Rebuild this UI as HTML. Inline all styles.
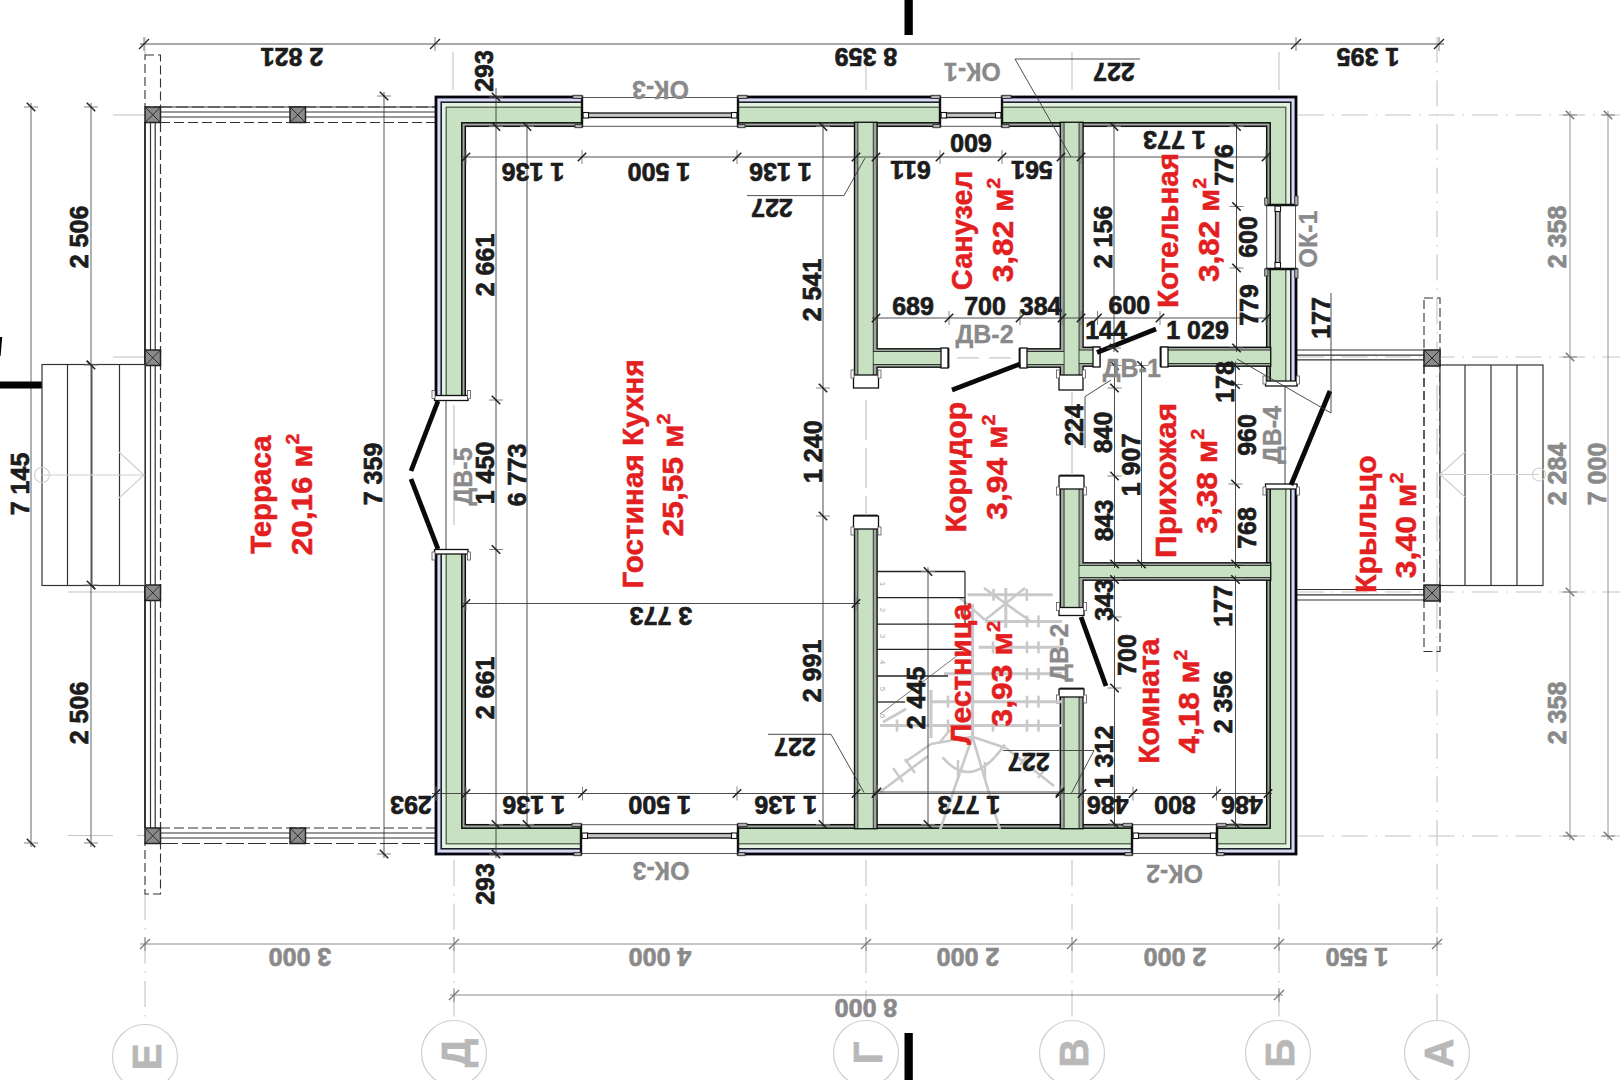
<!DOCTYPE html><html><head><meta charset="utf-8"><style>html,body{margin:0;padding:0;background:#fff;}svg{display:block;} text{font-family:"Liberation Sans",sans-serif;}</style></head><body>
<svg width="1620" height="1080" viewBox="0 0 1620 1080">
<rect width="1620" height="1080" fill="#fff"/>
<line x1="145" y1="894" x2="145" y2="1025" stroke="#c4c4c4" stroke-width="1.1" stroke-dasharray="26 8 1.5 8" stroke-linecap="butt"/>
<line x1="454" y1="860" x2="454" y2="1020" stroke="#c4c4c4" stroke-width="1.1" stroke-dasharray="26 8 1.5 8" stroke-linecap="butt"/>
<line x1="866" y1="860" x2="866" y2="1020" stroke="#c4c4c4" stroke-width="1.1" stroke-dasharray="26 8 1.5 8" stroke-linecap="butt"/>
<line x1="1072" y1="860" x2="1072" y2="1020" stroke="#c4c4c4" stroke-width="1.1" stroke-dasharray="26 8 1.5 8" stroke-linecap="butt"/>
<line x1="1279" y1="860" x2="1279" y2="1020" stroke="#c4c4c4" stroke-width="1.1" stroke-dasharray="26 8 1.5 8" stroke-linecap="butt"/>
<line x1="1437" y1="37" x2="1437" y2="1020" stroke="#c4c4c4" stroke-width="1.1" stroke-dasharray="26 8 1.5 8" stroke-linecap="butt"/>
<line x1="453" y1="52" x2="453" y2="90" stroke="#c4c4c4" stroke-width="1.1" stroke-linecap="butt"/>
<line x1="866" y1="52" x2="866" y2="90" stroke="#c4c4c4" stroke-width="1.1" stroke-linecap="butt"/>
<line x1="1072" y1="52" x2="1072" y2="90" stroke="#c4c4c4" stroke-width="1.1" stroke-linecap="butt"/>
<line x1="1279" y1="52" x2="1279" y2="90" stroke="#c4c4c4" stroke-width="1.1" stroke-linecap="butt"/>
<line x1="145" y1="37" x2="145" y2="55" stroke="#c4c4c4" stroke-width="1.1" stroke-linecap="butt"/>
<line x1="1298" y1="115" x2="1620" y2="115" stroke="#c4c4c4" stroke-width="1.1" stroke-dasharray="26 8 1.5 8" stroke-linecap="butt"/>
<line x1="1298" y1="357" x2="1620" y2="357" stroke="#c4c4c4" stroke-width="1.1" stroke-dasharray="26 8 1.5 8" stroke-linecap="butt"/>
<line x1="1298" y1="592" x2="1620" y2="592" stroke="#c4c4c4" stroke-width="1.1" stroke-dasharray="26 8 1.5 8" stroke-linecap="butt"/>
<line x1="1298" y1="836" x2="1620" y2="836" stroke="#c4c4c4" stroke-width="1.1" stroke-dasharray="26 8 1.5 8" stroke-linecap="butt"/>
<line x1="113" y1="115" x2="145" y2="115" stroke="#c4c4c4" stroke-width="1.1" stroke-linecap="butt"/>
<line x1="113" y1="357" x2="145" y2="357" stroke="#c4c4c4" stroke-width="1.1" stroke-linecap="butt"/>
<line x1="68" y1="592" x2="145" y2="592" stroke="#c4c4c4" stroke-width="1.1" stroke-linecap="butt"/>
<line x1="68" y1="835.5" x2="113" y2="835.5" stroke="#c4c4c4" stroke-width="1.1" stroke-linecap="butt"/>
<line x1="137" y1="835.5" x2="145" y2="835.5" stroke="#c4c4c4" stroke-width="1.1" stroke-linecap="butt"/>
<line x1="140" y1="44" x2="1444" y2="44" stroke="#555" stroke-width="1.1" stroke-linecap="butt"/>
<line x1="144" y1="37" x2="144" y2="51" stroke="#777" stroke-width="0.9"/>
<line x1="139" y1="49" x2="149" y2="39" stroke="#222" stroke-width="1.2"/>
<line x1="435" y1="37" x2="435" y2="51" stroke="#777" stroke-width="0.9"/>
<line x1="430" y1="49" x2="440" y2="39" stroke="#222" stroke-width="1.2"/>
<line x1="1296" y1="37" x2="1296" y2="51" stroke="#777" stroke-width="0.9"/>
<line x1="1291" y1="49" x2="1301" y2="39" stroke="#222" stroke-width="1.2"/>
<line x1="1439" y1="37" x2="1439" y2="51" stroke="#777" stroke-width="0.9"/>
<line x1="1434" y1="49" x2="1444" y2="39" stroke="#222" stroke-width="1.2"/>
<text transform="translate(292,57) rotate(180)" x="0" y="9.00" font-size="25" fill="#1c1c1c" font-weight="bold" text-anchor="middle" stroke="#1c1c1c" stroke-width="0.7">2 821</text>
<text transform="translate(866,57) rotate(180)" x="0" y="9.00" font-size="25" fill="#1c1c1c" font-weight="bold" text-anchor="middle" stroke="#1c1c1c" stroke-width="0.7">8 359</text>
<text transform="translate(1368,57) rotate(180)" x="0" y="9.00" font-size="25" fill="#1c1c1c" font-weight="bold" text-anchor="middle" stroke="#1c1c1c" stroke-width="0.7">1 395</text>
<line x1="31" y1="103" x2="31" y2="847" stroke="#555" stroke-width="0.9" stroke-linecap="butt"/>
<line x1="24" y1="107" x2="38" y2="107" stroke="#777" stroke-width="0.9"/>
<line x1="26.8" y1="102.8" x2="35.2" y2="111.2" stroke="#222" stroke-width="1.5"/>
<line x1="24" y1="843" x2="38" y2="843" stroke="#777" stroke-width="0.9"/>
<line x1="26.8" y1="838.8" x2="35.2" y2="847.2" stroke="#222" stroke-width="1.5"/>
<text transform="translate(19.5,484) rotate(-90)" x="0" y="9.00" font-size="25" fill="#1c1c1c" font-weight="bold" text-anchor="middle" stroke="#1c1c1c" stroke-width="0.7">7 145</text>
<line x1="91" y1="103" x2="91" y2="847" stroke="#555" stroke-width="0.9" stroke-linecap="butt"/>
<line x1="84" y1="107" x2="98" y2="107" stroke="#777" stroke-width="0.9"/>
<line x1="86.8" y1="102.8" x2="95.2" y2="111.2" stroke="#222" stroke-width="1.5"/>
<line x1="84" y1="365" x2="98" y2="365" stroke="#777" stroke-width="0.9"/>
<line x1="86.8" y1="360.8" x2="95.2" y2="369.2" stroke="#222" stroke-width="1.5"/>
<line x1="84" y1="585" x2="98" y2="585" stroke="#777" stroke-width="0.9"/>
<line x1="86.8" y1="580.8" x2="95.2" y2="589.2" stroke="#222" stroke-width="1.5"/>
<line x1="84" y1="843" x2="98" y2="843" stroke="#777" stroke-width="0.9"/>
<line x1="86.8" y1="838.8" x2="95.2" y2="847.2" stroke="#222" stroke-width="1.5"/>
<text transform="translate(79,237) rotate(-90)" x="0" y="9.00" font-size="25" fill="#1c1c1c" font-weight="bold" text-anchor="middle" stroke="#1c1c1c" stroke-width="0.7">2 506</text>
<text transform="translate(79,525) rotate(-90)" x="0" y="9.00" font-size="25" fill="#1c1c1c" font-weight="bold" text-anchor="middle" stroke="#1c1c1c" stroke-width="0.7">2 134</text>
<text transform="translate(79,713) rotate(-90)" x="0" y="9.00" font-size="25" fill="#1c1c1c" font-weight="bold" text-anchor="middle" stroke="#1c1c1c" stroke-width="0.7">2 506</text>
<line x1="384" y1="92" x2="384" y2="858" stroke="#444" stroke-width="0.9" stroke-linecap="butt"/>
<line x1="377" y1="96" x2="391" y2="96" stroke="#777" stroke-width="0.9"/>
<line x1="379.8" y1="91.8" x2="388.2" y2="100.2" stroke="#222" stroke-width="1.5"/>
<line x1="377" y1="854" x2="391" y2="854" stroke="#777" stroke-width="0.9"/>
<line x1="379.8" y1="849.8" x2="388.2" y2="858.2" stroke="#222" stroke-width="1.5"/>
<text transform="translate(372.5,474) rotate(-90)" x="0" y="9.00" font-size="25" fill="#1c1c1c" font-weight="bold" text-anchor="middle" stroke="#1c1c1c" stroke-width="0.7">7 359</text>
<line x1="1570" y1="111" x2="1570" y2="840" stroke="#888" stroke-width="0.9" stroke-linecap="butt"/>
<line x1="1563" y1="115" x2="1577" y2="115" stroke="#777" stroke-width="0.9"/>
<line x1="1565.8" y1="110.8" x2="1574.2" y2="119.2" stroke="#777" stroke-width="1.5"/>
<line x1="1563" y1="357" x2="1577" y2="357" stroke="#777" stroke-width="0.9"/>
<line x1="1565.8" y1="352.8" x2="1574.2" y2="361.2" stroke="#777" stroke-width="1.5"/>
<line x1="1563" y1="592" x2="1577" y2="592" stroke="#777" stroke-width="0.9"/>
<line x1="1565.8" y1="587.8" x2="1574.2" y2="596.2" stroke="#777" stroke-width="1.5"/>
<line x1="1563" y1="836" x2="1577" y2="836" stroke="#777" stroke-width="0.9"/>
<line x1="1565.8" y1="831.8" x2="1574.2" y2="840.2" stroke="#777" stroke-width="1.5"/>
<line x1="1608" y1="111" x2="1608" y2="840" stroke="#888" stroke-width="0.9" stroke-linecap="butt"/>
<line x1="1601" y1="115" x2="1615" y2="115" stroke="#777" stroke-width="0.9"/>
<line x1="1603.8" y1="110.8" x2="1612.2" y2="119.2" stroke="#777" stroke-width="1.5"/>
<line x1="1601" y1="836" x2="1615" y2="836" stroke="#777" stroke-width="0.9"/>
<line x1="1603.8" y1="831.8" x2="1612.2" y2="840.2" stroke="#777" stroke-width="1.5"/>
<text transform="translate(1557,237) rotate(-90)" x="0" y="9.00" font-size="25" fill="#8a8a8a" font-weight="bold" text-anchor="middle" stroke="#8a8a8a" stroke-width="0.7">2 358</text>
<text transform="translate(1557,474) rotate(-90)" x="0" y="9.00" font-size="25" fill="#8a8a8a" font-weight="bold" text-anchor="middle" stroke="#8a8a8a" stroke-width="0.7">2 284</text>
<text transform="translate(1557,713) rotate(-90)" x="0" y="9.00" font-size="25" fill="#8a8a8a" font-weight="bold" text-anchor="middle" stroke="#8a8a8a" stroke-width="0.7">2 358</text>
<text transform="translate(1597,474) rotate(-90)" x="0" y="9.00" font-size="25" fill="#8a8a8a" font-weight="bold" text-anchor="middle" stroke="#8a8a8a" stroke-width="0.7">7 000</text>
<line x1="140" y1="944" x2="1442" y2="944" stroke="#8a8a8a" stroke-width="1.1" stroke-linecap="butt"/>
<line x1="145" y1="937" x2="145" y2="951" stroke="#777" stroke-width="0.9"/>
<line x1="140" y1="949" x2="150" y2="939" stroke="#777" stroke-width="1.2"/>
<line x1="454" y1="937" x2="454" y2="951" stroke="#777" stroke-width="0.9"/>
<line x1="449" y1="949" x2="459" y2="939" stroke="#777" stroke-width="1.2"/>
<line x1="866" y1="937" x2="866" y2="951" stroke="#777" stroke-width="0.9"/>
<line x1="861" y1="949" x2="871" y2="939" stroke="#777" stroke-width="1.2"/>
<line x1="1072" y1="937" x2="1072" y2="951" stroke="#777" stroke-width="0.9"/>
<line x1="1067" y1="949" x2="1077" y2="939" stroke="#777" stroke-width="1.2"/>
<line x1="1279" y1="937" x2="1279" y2="951" stroke="#777" stroke-width="0.9"/>
<line x1="1274" y1="949" x2="1284" y2="939" stroke="#777" stroke-width="1.2"/>
<line x1="1437" y1="937" x2="1437" y2="951" stroke="#777" stroke-width="0.9"/>
<line x1="1432" y1="949" x2="1442" y2="939" stroke="#777" stroke-width="1.2"/>
<line x1="450" y1="995" x2="1283" y2="995" stroke="#8a8a8a" stroke-width="1.1" stroke-linecap="butt"/>
<line x1="454" y1="988" x2="454" y2="1002" stroke="#777" stroke-width="0.9"/>
<line x1="449" y1="1000" x2="459" y2="990" stroke="#777" stroke-width="1.2"/>
<line x1="1279" y1="988" x2="1279" y2="1002" stroke="#777" stroke-width="0.9"/>
<line x1="1274" y1="1000" x2="1284" y2="990" stroke="#777" stroke-width="1.2"/>
<text transform="translate(300,957) rotate(180)" x="0" y="9.00" font-size="25" fill="#8a8a8a" font-weight="bold" text-anchor="middle" stroke="#8a8a8a" stroke-width="0.7">3 000</text>
<text transform="translate(660,957) rotate(180)" x="0" y="9.00" font-size="25" fill="#8a8a8a" font-weight="bold" text-anchor="middle" stroke="#8a8a8a" stroke-width="0.7">4 000</text>
<text transform="translate(968,957) rotate(180)" x="0" y="9.00" font-size="25" fill="#8a8a8a" font-weight="bold" text-anchor="middle" stroke="#8a8a8a" stroke-width="0.7">2 000</text>
<text transform="translate(1175,957) rotate(180)" x="0" y="9.00" font-size="25" fill="#8a8a8a" font-weight="bold" text-anchor="middle" stroke="#8a8a8a" stroke-width="0.7">2 000</text>
<text transform="translate(1357,957) rotate(180)" x="0" y="9.00" font-size="25" fill="#8a8a8a" font-weight="bold" text-anchor="middle" stroke="#8a8a8a" stroke-width="0.7">1 550</text>
<text transform="translate(866,1008) rotate(180)" x="0" y="9.00" font-size="25" fill="#8a8a8a" font-weight="bold" text-anchor="middle" stroke="#8a8a8a" stroke-width="0.7">8 000</text>
<circle cx="145" cy="1057" r="32.5" fill="#fff" stroke="#cfcfcf" stroke-width="1.2"/>
<text transform="translate(147,1057) rotate(-90)" x="0" y="14.40" font-size="40" fill="#b8b8b8" font-weight="bold" text-anchor="middle" stroke="#b8b8b8" stroke-width="0.7">Е</text>
<circle cx="454" cy="1053" r="32.5" fill="#fff" stroke="#cfcfcf" stroke-width="1.2"/>
<text transform="translate(456,1053) rotate(-90)" x="0" y="14.40" font-size="40" fill="#b8b8b8" font-weight="bold" text-anchor="middle" stroke="#b8b8b8" stroke-width="0.7">Д</text>
<circle cx="866" cy="1053" r="32.5" fill="#fff" stroke="#cfcfcf" stroke-width="1.2"/>
<text transform="translate(868,1053) rotate(-90)" x="0" y="14.40" font-size="40" fill="#b8b8b8" font-weight="bold" text-anchor="middle" stroke="#b8b8b8" stroke-width="0.7">Г</text>
<circle cx="1072" cy="1053" r="32.5" fill="#fff" stroke="#cfcfcf" stroke-width="1.2"/>
<text transform="translate(1074,1053) rotate(-90)" x="0" y="14.40" font-size="40" fill="#b8b8b8" font-weight="bold" text-anchor="middle" stroke="#b8b8b8" stroke-width="0.7">В</text>
<circle cx="1278" cy="1053" r="32.5" fill="#fff" stroke="#cfcfcf" stroke-width="1.2"/>
<text transform="translate(1280,1053) rotate(-90)" x="0" y="14.40" font-size="40" fill="#b8b8b8" font-weight="bold" text-anchor="middle" stroke="#b8b8b8" stroke-width="0.7">Б</text>
<circle cx="1437" cy="1053" r="32.5" fill="#fff" stroke="#cfcfcf" stroke-width="1.2"/>
<text transform="translate(1439,1053) rotate(-90)" x="0" y="14.40" font-size="40" fill="#b8b8b8" font-weight="bold" text-anchor="middle" stroke="#b8b8b8" stroke-width="0.7">А</text>
<rect x="904.5" y="0" width="8.3" height="35" fill="#000" stroke="none" stroke-width="1.0"/>
<rect x="904.5" y="1033" width="8.3" height="47" fill="#000" stroke="none" stroke-width="1.0"/>
<rect x="0" y="381.5" width="47" height="7" fill="#000" stroke="none" stroke-width="1.0"/>
<polygon points="0,337 2.2,337 0.6,356 0,356" fill="#000"/>
<rect x="145" y="55" width="15.5" height="52" fill="none" stroke="#333" stroke-width="1.1" stroke-dasharray="9 4"/>
<rect x="145" y="843" width="15.5" height="51" fill="none" stroke="#333" stroke-width="1.1" stroke-dasharray="9 4"/>
<line x1="160" y1="107" x2="436" y2="107" stroke="#333" stroke-width="1.2" stroke-linecap="butt"/>
<line x1="160" y1="112" x2="436" y2="112" stroke="#333" stroke-width="1.2" stroke-linecap="butt"/>
<line x1="160" y1="117" x2="436" y2="117" stroke="#333" stroke-width="1.2" stroke-linecap="butt"/>
<line x1="160" y1="122.5" x2="436" y2="122.5" stroke="#333" stroke-width="1.2" stroke-dasharray="10 4" stroke-linecap="butt"/>
<line x1="160" y1="107" x2="436" y2="107" stroke="#333" stroke-width="1.0" stroke-dasharray="12 4" stroke-linecap="butt"/>
<line x1="160" y1="828" x2="436" y2="828" stroke="#333" stroke-width="1.2" stroke-dasharray="10 4" stroke-linecap="butt"/>
<line x1="160" y1="833" x2="436" y2="833" stroke="#333" stroke-width="1.2" stroke-linecap="butt"/>
<line x1="160" y1="838" x2="436" y2="838" stroke="#333" stroke-width="1.2" stroke-linecap="butt"/>
<line x1="160" y1="843.5" x2="436" y2="843.5" stroke="#333" stroke-width="1.2" stroke-dasharray="18 4" stroke-linecap="butt"/>
<line x1="145" y1="122" x2="145" y2="828" stroke="#333" stroke-width="1.2" stroke-linecap="butt"/>
<line x1="150.5" y1="122" x2="150.5" y2="828" stroke="#333" stroke-width="1.2" stroke-linecap="butt"/>
<line x1="155.2" y1="122" x2="155.2" y2="828" stroke="#333" stroke-width="1.2" stroke-linecap="butt"/>
<line x1="160.5" y1="122" x2="160.5" y2="828" stroke="#333" stroke-width="1.2" stroke-dasharray="10 4" stroke-linecap="butt"/>
<line x1="145" y1="122" x2="145" y2="828" stroke="#222" stroke-width="1.6" stroke-linecap="butt"/>
<rect x="145" y="107" width="15.5" height="15.5" fill="#8a8a8a" stroke="#222" stroke-width="1.5"/>
<line x1="145" y1="107" x2="160.5" y2="122.5" stroke="#222" stroke-width="0.9" stroke-linecap="butt"/>
<line x1="160.5" y1="107" x2="145" y2="122.5" stroke="#222" stroke-width="0.9" stroke-linecap="butt"/>
<rect x="290" y="107" width="15.5" height="15.5" fill="#8a8a8a" stroke="#222" stroke-width="1.5"/>
<line x1="290" y1="107" x2="305.5" y2="122.5" stroke="#222" stroke-width="0.9" stroke-linecap="butt"/>
<line x1="305.5" y1="107" x2="290" y2="122.5" stroke="#222" stroke-width="0.9" stroke-linecap="butt"/>
<rect x="145" y="350" width="15.5" height="15.5" fill="#8a8a8a" stroke="#222" stroke-width="1.5"/>
<line x1="145" y1="350" x2="160.5" y2="365.5" stroke="#222" stroke-width="0.9" stroke-linecap="butt"/>
<line x1="160.5" y1="350" x2="145" y2="365.5" stroke="#222" stroke-width="0.9" stroke-linecap="butt"/>
<rect x="145" y="585" width="15.5" height="15.5" fill="#8a8a8a" stroke="#222" stroke-width="1.5"/>
<line x1="145" y1="585" x2="160.5" y2="600.5" stroke="#222" stroke-width="0.9" stroke-linecap="butt"/>
<line x1="160.5" y1="585" x2="145" y2="600.5" stroke="#222" stroke-width="0.9" stroke-linecap="butt"/>
<rect x="145" y="828" width="15.5" height="15.5" fill="#8a8a8a" stroke="#222" stroke-width="1.5"/>
<line x1="145" y1="828" x2="160.5" y2="843.5" stroke="#222" stroke-width="0.9" stroke-linecap="butt"/>
<line x1="160.5" y1="828" x2="145" y2="843.5" stroke="#222" stroke-width="0.9" stroke-linecap="butt"/>
<rect x="290" y="828" width="15.5" height="15.5" fill="#8a8a8a" stroke="#222" stroke-width="1.5"/>
<line x1="290" y1="828" x2="305.5" y2="843.5" stroke="#222" stroke-width="0.9" stroke-linecap="butt"/>
<line x1="305.5" y1="828" x2="290" y2="843.5" stroke="#222" stroke-width="0.9" stroke-linecap="butt"/>
<rect x="42" y="364.5" width="103" height="221" fill="#fff" stroke="#333" stroke-width="1.2"/>
<line x1="67.5" y1="364.5" x2="67.5" y2="585.5" stroke="#333" stroke-width="1.2" stroke-linecap="butt"/>
<line x1="119.5" y1="364.5" x2="119.5" y2="585.5" stroke="#333" stroke-width="1.2" stroke-linecap="butt"/>
<line x1="91.5" y1="364.5" x2="91.5" y2="585.5" stroke="#555" stroke-width="2.0" stroke-linecap="butt"/>
<line x1="84" y1="365" x2="98" y2="365" stroke="#777" stroke-width="0.9"/>
<line x1="86.8" y1="360.8" x2="95.2" y2="369.2" stroke="#222" stroke-width="1.5"/>
<line x1="84" y1="585" x2="98" y2="585" stroke="#777" stroke-width="0.9"/>
<line x1="86.8" y1="580.8" x2="95.2" y2="589.2" stroke="#222" stroke-width="1.5"/>
<circle cx="42" cy="475" r="7.5" fill="none" stroke="#cfcfcf" stroke-width="1.1"/>
<line x1="42" y1="475" x2="144" y2="475" stroke="#cfcfcf" stroke-width="1.1" stroke-linecap="butt"/>
<polyline points="119,452 144,475 119,498" fill="none" stroke="#cfcfcf" stroke-width="1.1"/>
<rect x="1424" y="298" width="16" height="353.5" fill="none" stroke="#333" stroke-width="1.1" stroke-dasharray="9 4"/>
<line x1="1297" y1="350" x2="1424" y2="350" stroke="#333" stroke-width="1.2" stroke-linecap="butt"/>
<line x1="1297" y1="355.2" x2="1424" y2="355.2" stroke="#333" stroke-width="1.2" stroke-linecap="butt"/>
<line x1="1297" y1="359.8" x2="1424" y2="359.8" stroke="#333" stroke-width="1.2" stroke-linecap="butt"/>
<line x1="1297" y1="589.5" x2="1424" y2="589.5" stroke="#333" stroke-width="1.2" stroke-linecap="butt"/>
<line x1="1297" y1="594.8" x2="1424" y2="594.8" stroke="#333" stroke-width="1.2" stroke-linecap="butt"/>
<line x1="1297" y1="600" x2="1424" y2="600" stroke="#333" stroke-width="1.2" stroke-linecap="butt"/>
<rect x="1440" y="365" width="103" height="220.5" fill="#fff" stroke="#333" stroke-width="1.2"/>
<line x1="1465" y1="365" x2="1465" y2="585.5" stroke="#333" stroke-width="1.2" stroke-linecap="butt"/>
<line x1="1491" y1="365" x2="1491" y2="585.5" stroke="#333" stroke-width="1.2" stroke-linecap="butt"/>
<line x1="1517" y1="365" x2="1517" y2="585.5" stroke="#333" stroke-width="1.2" stroke-linecap="butt"/>
<line x1="1424" y1="365" x2="1424" y2="585" stroke="#333" stroke-width="1.1" stroke-dasharray="9 4" stroke-linecap="butt"/>
<rect x="1424" y="350" width="16" height="16" fill="#8a8a8a" stroke="#222" stroke-width="1.5"/>
<line x1="1424" y1="350" x2="1440" y2="366" stroke="#222" stroke-width="0.9" stroke-linecap="butt"/>
<line x1="1440" y1="350" x2="1424" y2="366" stroke="#222" stroke-width="0.9" stroke-linecap="butt"/>
<rect x="1424" y="585" width="16" height="16" fill="#8a8a8a" stroke="#222" stroke-width="1.5"/>
<line x1="1424" y1="585" x2="1440" y2="601" stroke="#222" stroke-width="0.9" stroke-linecap="butt"/>
<line x1="1440" y1="585" x2="1424" y2="601" stroke="#222" stroke-width="0.9" stroke-linecap="butt"/>
<circle cx="1539" cy="474.5" r="6.5" fill="none" stroke="#cfcfcf" stroke-width="1.1"/>
<line x1="1440" y1="474.5" x2="1539" y2="474.5" stroke="#cfcfcf" stroke-width="1.1" stroke-linecap="butt"/>
<polyline points="1465,452 1440,474.5 1465,497" fill="none" stroke="#cfcfcf" stroke-width="1.1"/>
<rect x="436" y="97" width="860" height="757" fill="#d9d9f4" stroke="#05050f" stroke-width="2.8"/>
<rect x="441.2" y="102.2" width="849.6" height="746.6" fill="#e4f1e0" stroke="#101820" stroke-width="1.5"/>
<rect x="446.2" y="107.2" width="839.6" height="736.6" fill="#c9e1c3" stroke="#40563f" stroke-width="1.2"/>
<rect x="461.8" y="122.8" width="808.4" height="705.4" fill="#a3a6a3" stroke="#0c140c" stroke-width="1.5"/>
<rect x="465.3" y="126.3" width="801.4" height="698.4" fill="#fff" stroke="#0c120c" stroke-width="1.5"/>
<rect x="855.2" y="123" width="21.199999999999932" height="252" fill="none" stroke="#0c120c" stroke-width="2.8"/>
<rect x="855.2" y="516" width="21.199999999999932" height="312" fill="none" stroke="#0c120c" stroke-width="2.8"/>
<rect x="1061" y="123" width="21.40000000000009" height="252" fill="none" stroke="#0c120c" stroke-width="2.8"/>
<rect x="1061" y="476" width="21.40000000000009" height="134" fill="none" stroke="#0c120c" stroke-width="2.8"/>
<rect x="1061" y="689" width="21.40000000000009" height="139" fill="none" stroke="#0c120c" stroke-width="2.8"/>
<rect x="872.8" y="349.5" width="75.20000000000005" height="17.0" fill="none" stroke="#0c120c" stroke-width="2.8"/>
<rect x="1020" y="349.5" width="44.5" height="17.0" fill="none" stroke="#0c120c" stroke-width="2.8"/>
<rect x="1078.6" y="348" width="20.40000000000009" height="17.5" fill="none" stroke="#0c120c" stroke-width="2.8"/>
<rect x="1161" y="348" width="109" height="17.5" fill="none" stroke="#0c120c" stroke-width="2.8"/>
<rect x="1078.6" y="563.5" width="191.4000000000001" height="16.0" fill="none" stroke="#0c120c" stroke-width="2.8"/>
<rect x="855.2" y="123" width="21.199999999999932" height="252" fill="#a3a6a3" stroke="none" stroke-width="1.0"/>
<rect x="855.2" y="516" width="21.199999999999932" height="312" fill="#a3a6a3" stroke="none" stroke-width="1.0"/>
<rect x="1061" y="123" width="21.40000000000009" height="252" fill="#a3a6a3" stroke="none" stroke-width="1.0"/>
<rect x="1061" y="476" width="21.40000000000009" height="134" fill="#a3a6a3" stroke="none" stroke-width="1.0"/>
<rect x="1061" y="689" width="21.40000000000009" height="139" fill="#a3a6a3" stroke="none" stroke-width="1.0"/>
<rect x="872.8" y="349.5" width="75.20000000000005" height="17.0" fill="#a3a6a3" stroke="none" stroke-width="1.0"/>
<rect x="1020" y="349.5" width="44.5" height="17.0" fill="#a3a6a3" stroke="none" stroke-width="1.0"/>
<rect x="1078.6" y="348" width="20.40000000000009" height="17.5" fill="#a3a6a3" stroke="none" stroke-width="1.0"/>
<rect x="1161" y="348" width="109" height="17.5" fill="#a3a6a3" stroke="none" stroke-width="1.0"/>
<rect x="1078.6" y="563.5" width="191.4000000000001" height="16.0" fill="#a3a6a3" stroke="none" stroke-width="1.0"/>
<rect x="858.3" y="123" width="14.5" height="252" fill="none" stroke="#1a241a" stroke-width="1.7"/>
<rect x="858.3" y="516" width="14.5" height="312" fill="none" stroke="#1a241a" stroke-width="1.7"/>
<rect x="1064.5" y="123" width="14.099999999999909" height="252" fill="none" stroke="#1a241a" stroke-width="1.7"/>
<rect x="1064.5" y="476" width="14.099999999999909" height="134" fill="none" stroke="#1a241a" stroke-width="1.7"/>
<rect x="1064.5" y="689" width="14.099999999999909" height="139" fill="none" stroke="#1a241a" stroke-width="1.7"/>
<rect x="873.6" y="352" width="74.39999999999998" height="12" fill="none" stroke="#1a241a" stroke-width="1.7"/>
<rect x="1020" y="352" width="43.700000000000045" height="12" fill="none" stroke="#1a241a" stroke-width="1.7"/>
<rect x="1079.4" y="350.5" width="19.59999999999991" height="12.5" fill="none" stroke="#1a241a" stroke-width="1.7"/>
<rect x="1161" y="350.5" width="109" height="12.5" fill="none" stroke="#1a241a" stroke-width="1.7"/>
<rect x="1079.4" y="566" width="190.5999999999999" height="11" fill="none" stroke="#1a241a" stroke-width="1.7"/>
<rect x="858.3" y="123" width="14.5" height="252" fill="#c9e1c3" stroke="none" stroke-width="1.0"/>
<rect x="858.3" y="516" width="14.5" height="312" fill="#c9e1c3" stroke="none" stroke-width="1.0"/>
<rect x="1064.5" y="123" width="14.099999999999909" height="252" fill="#c9e1c3" stroke="none" stroke-width="1.0"/>
<rect x="1064.5" y="476" width="14.099999999999909" height="134" fill="#c9e1c3" stroke="none" stroke-width="1.0"/>
<rect x="1064.5" y="689" width="14.099999999999909" height="139" fill="#c9e1c3" stroke="none" stroke-width="1.0"/>
<rect x="873.6" y="352" width="74.39999999999998" height="12" fill="#c9e1c3" stroke="none" stroke-width="1.0"/>
<rect x="1020" y="352" width="43.700000000000045" height="12" fill="#c9e1c3" stroke="none" stroke-width="1.0"/>
<rect x="1079.4" y="350.5" width="19.59999999999991" height="12.5" fill="#c9e1c3" stroke="none" stroke-width="1.0"/>
<rect x="1161" y="350.5" width="109" height="12.5" fill="#c9e1c3" stroke="none" stroke-width="1.0"/>
<rect x="1079.4" y="566" width="190.5999999999999" height="11" fill="#c9e1c3" stroke="none" stroke-width="1.0"/>
<rect x="582" y="95" width="156" height="33" fill="#fff" stroke="none" stroke-width="1.0"/>
<line x1="582" y1="97.5" x2="738" y2="97.5" stroke="#555" stroke-width="1.0" stroke-linecap="butt"/>
<line x1="582" y1="126.3" x2="738" y2="126.3" stroke="#555" stroke-width="1.0" stroke-linecap="butt"/>
<rect x="588" y="113" width="144" height="4.5" fill="#c4c4c4" stroke="#111" stroke-width="1.3"/>
<rect x="583" y="112.5" width="5.5" height="5.5" fill="#fff" stroke="#111" stroke-width="1.1"/>
<rect x="731.5" y="112.5" width="5.5" height="5.5" fill="#fff" stroke="#111" stroke-width="1.1"/>
<line x1="582" y1="95.5" x2="582" y2="127.5" stroke="#111" stroke-width="2.4" stroke-linecap="butt"/>
<line x1="738" y1="95.5" x2="738" y2="127.5" stroke="#111" stroke-width="2.4" stroke-linecap="butt"/>
<rect x="573" y="95.3" width="9" height="3.2" fill="#b0b0b0" stroke="#333" stroke-width="0.9"/>
<rect x="575" y="124.5" width="7" height="3.2" fill="#b0b0b0" stroke="#333" stroke-width="0.9"/>
<rect x="738" y="95.3" width="9" height="3.2" fill="#b0b0b0" stroke="#333" stroke-width="0.9"/>
<rect x="738" y="124.5" width="7" height="3.2" fill="#b0b0b0" stroke="#333" stroke-width="0.9"/>
<rect x="940" y="95" width="62" height="33" fill="#fff" stroke="none" stroke-width="1.0"/>
<line x1="940" y1="97.5" x2="1002" y2="97.5" stroke="#555" stroke-width="1.0" stroke-linecap="butt"/>
<line x1="940" y1="126.3" x2="1002" y2="126.3" stroke="#555" stroke-width="1.0" stroke-linecap="butt"/>
<rect x="946" y="113" width="50" height="4.5" fill="#c4c4c4" stroke="#111" stroke-width="1.3"/>
<rect x="941" y="112.5" width="5.5" height="5.5" fill="#fff" stroke="#111" stroke-width="1.1"/>
<rect x="995.5" y="112.5" width="5.5" height="5.5" fill="#fff" stroke="#111" stroke-width="1.1"/>
<line x1="940" y1="95.5" x2="940" y2="127.5" stroke="#111" stroke-width="2.4" stroke-linecap="butt"/>
<line x1="1002" y1="95.5" x2="1002" y2="127.5" stroke="#111" stroke-width="2.4" stroke-linecap="butt"/>
<rect x="931" y="95.3" width="9" height="3.2" fill="#b0b0b0" stroke="#333" stroke-width="0.9"/>
<rect x="933" y="124.5" width="7" height="3.2" fill="#b0b0b0" stroke="#333" stroke-width="0.9"/>
<rect x="1002" y="95.3" width="9" height="3.2" fill="#b0b0b0" stroke="#333" stroke-width="0.9"/>
<rect x="1002" y="124.5" width="7" height="3.2" fill="#b0b0b0" stroke="#333" stroke-width="0.9"/>
<rect x="581" y="823" width="157" height="33" fill="#fff" stroke="none" stroke-width="1.0"/>
<line x1="581" y1="853.5" x2="738" y2="853.5" stroke="#555" stroke-width="1.0" stroke-linecap="butt"/>
<line x1="581" y1="824.7" x2="738" y2="824.7" stroke="#555" stroke-width="1.0" stroke-linecap="butt"/>
<rect x="587" y="833.5" width="145" height="4.5" fill="#c4c4c4" stroke="#111" stroke-width="1.3"/>
<rect x="582" y="833.0" width="5.5" height="5.5" fill="#fff" stroke="#111" stroke-width="1.1"/>
<rect x="731.5" y="833.0" width="5.5" height="5.5" fill="#fff" stroke="#111" stroke-width="1.1"/>
<line x1="581" y1="823.5" x2="581" y2="855.5" stroke="#111" stroke-width="2.4" stroke-linecap="butt"/>
<line x1="738" y1="823.5" x2="738" y2="855.5" stroke="#111" stroke-width="2.4" stroke-linecap="butt"/>
<rect x="572" y="823.3" width="9" height="3.2" fill="#b0b0b0" stroke="#333" stroke-width="0.9"/>
<rect x="574" y="852.5" width="7" height="3.2" fill="#b0b0b0" stroke="#333" stroke-width="0.9"/>
<rect x="738" y="823.3" width="9" height="3.2" fill="#b0b0b0" stroke="#333" stroke-width="0.9"/>
<rect x="738" y="852.5" width="7" height="3.2" fill="#b0b0b0" stroke="#333" stroke-width="0.9"/>
<rect x="1132" y="823" width="85" height="33" fill="#fff" stroke="none" stroke-width="1.0"/>
<line x1="1132" y1="853.5" x2="1217" y2="853.5" stroke="#555" stroke-width="1.0" stroke-linecap="butt"/>
<line x1="1132" y1="824.7" x2="1217" y2="824.7" stroke="#555" stroke-width="1.0" stroke-linecap="butt"/>
<rect x="1138" y="833.5" width="73" height="4.5" fill="#c4c4c4" stroke="#111" stroke-width="1.3"/>
<rect x="1133" y="833.0" width="5.5" height="5.5" fill="#fff" stroke="#111" stroke-width="1.1"/>
<rect x="1210.5" y="833.0" width="5.5" height="5.5" fill="#fff" stroke="#111" stroke-width="1.1"/>
<line x1="1132" y1="823.5" x2="1132" y2="855.5" stroke="#111" stroke-width="2.4" stroke-linecap="butt"/>
<line x1="1217" y1="823.5" x2="1217" y2="855.5" stroke="#111" stroke-width="2.4" stroke-linecap="butt"/>
<rect x="1123" y="823.3" width="9" height="3.2" fill="#b0b0b0" stroke="#333" stroke-width="0.9"/>
<rect x="1125" y="852.5" width="7" height="3.2" fill="#b0b0b0" stroke="#333" stroke-width="0.9"/>
<rect x="1217" y="823.3" width="9" height="3.2" fill="#b0b0b0" stroke="#333" stroke-width="0.9"/>
<rect x="1217" y="852.5" width="7" height="3.2" fill="#b0b0b0" stroke="#333" stroke-width="0.9"/>
<rect x="1265" y="205" width="33" height="64" fill="#fff" stroke="none" stroke-width="1.0"/>
<line x1="1295.5" y1="205" x2="1295.5" y2="269" stroke="#555" stroke-width="1.0" stroke-linecap="butt"/>
<line x1="1266.7" y1="205" x2="1266.7" y2="269" stroke="#555" stroke-width="1.0" stroke-linecap="butt"/>
<rect x="1275.5" y="211" width="4.5" height="52" fill="#c4c4c4" stroke="#111" stroke-width="1.3"/>
<rect x="1275.0" y="206" width="5.5" height="5.5" fill="#fff" stroke="#111" stroke-width="1.1"/>
<rect x="1275.0" y="262.5" width="5.5" height="5.5" fill="#fff" stroke="#111" stroke-width="1.1"/>
<line x1="1265.5" y1="205" x2="1297.5" y2="205" stroke="#111" stroke-width="2.4" stroke-linecap="butt"/>
<line x1="1265.5" y1="269" x2="1297.5" y2="269" stroke="#111" stroke-width="2.4" stroke-linecap="butt"/>
<rect x="1264.7" y="198" width="3.2" height="7" fill="#b0b0b0" stroke="#333" stroke-width="0.9"/>
<rect x="1294.8" y="196" width="3.2" height="9" fill="#b0b0b0" stroke="#333" stroke-width="0.9"/>
<rect x="1264.7" y="269" width="3.2" height="7" fill="#b0b0b0" stroke="#333" stroke-width="0.9"/>
<rect x="1294.8" y="269" width="3.2" height="9" fill="#b0b0b0" stroke="#333" stroke-width="0.9"/>
<rect x="433" y="400" width="37" height="149.5" fill="#fff" stroke="none" stroke-width="1.0"/>
<line x1="446" y1="400" x2="446" y2="549.5" stroke="#444" stroke-width="1.0" stroke-linecap="butt"/>
<rect x="1263" y="386" width="36" height="98" fill="#fff" stroke="none" stroke-width="1.0"/>
<line x1="1285" y1="386" x2="1285" y2="484" stroke="#444" stroke-width="1.0" stroke-linecap="butt"/>
<rect x="853.5" y="375" width="25.0" height="13" fill="#fff" stroke="#111" stroke-width="1.3"/>
<rect x="853.5" y="516" width="25.0" height="13" fill="#fff" stroke="#111" stroke-width="1.3"/>
<rect x="1059" y="375" width="24" height="15" fill="#fff" stroke="#111" stroke-width="1.3"/>
<rect x="1059" y="476" width="25" height="13" fill="#fff" stroke="#111" stroke-width="1.3"/>
<rect x="1059" y="607.5" width="25" height="8.0" fill="#fff" stroke="#111" stroke-width="1.3"/>
<rect x="1059" y="689" width="25" height="8" fill="#fff" stroke="#111" stroke-width="1.3"/>
<rect x="941" y="348" width="7" height="20" fill="#fff" stroke="#111" stroke-width="1.3"/>
<rect x="1020" y="348" width="7" height="20" fill="#fff" stroke="#111" stroke-width="1.3"/>
<rect x="1093" y="347" width="7" height="20" fill="#fff" stroke="#111" stroke-width="1.3"/>
<rect x="1161" y="347" width="7" height="20" fill="#fff" stroke="#111" stroke-width="1.3"/>
<rect x="434.5" y="395.5" width="33.5" height="5.0" fill="#fff" stroke="#111" stroke-width="1.3"/>
<rect x="434.5" y="549.5" width="33.5" height="4.5" fill="#fff" stroke="#111" stroke-width="1.3"/>
<rect x="1265.5" y="381" width="31.5" height="5" fill="#fff" stroke="#111" stroke-width="1.3"/>
<rect x="1265.5" y="484" width="31.5" height="5" fill="#fff" stroke="#111" stroke-width="1.3"/>
<rect x="851.0" y="370" width="3" height="8" fill="#fff" stroke="#555" stroke-width="0.8"/>
<rect x="878.0" y="370" width="3" height="8" fill="#fff" stroke="#555" stroke-width="0.8"/>
<rect x="851.0" y="527" width="3" height="8" fill="#fff" stroke="#555" stroke-width="0.8"/>
<rect x="878.0" y="527" width="3" height="8" fill="#fff" stroke="#555" stroke-width="0.8"/>
<rect x="1056.5" y="370" width="3" height="8" fill="#fff" stroke="#555" stroke-width="0.8"/>
<rect x="1082.5" y="370" width="3" height="8" fill="#fff" stroke="#555" stroke-width="0.8"/>
<rect x="1056.5" y="487" width="3" height="8" fill="#fff" stroke="#555" stroke-width="0.8"/>
<rect x="1083.5" y="487" width="3" height="8" fill="#fff" stroke="#555" stroke-width="0.8"/>
<rect x="1056.5" y="602.5" width="3" height="8" fill="#fff" stroke="#555" stroke-width="0.8"/>
<rect x="1083.5" y="602.5" width="3" height="8" fill="#fff" stroke="#555" stroke-width="0.8"/>
<rect x="1056.5" y="695" width="3" height="8" fill="#fff" stroke="#555" stroke-width="0.8"/>
<rect x="1083.5" y="695" width="3" height="8" fill="#fff" stroke="#555" stroke-width="0.8"/>
<rect x="432.0" y="390.5" width="3" height="8" fill="#fff" stroke="#555" stroke-width="0.8"/>
<rect x="467.5" y="390.5" width="3" height="8" fill="#fff" stroke="#555" stroke-width="0.8"/>
<rect x="432.0" y="552" width="3" height="8" fill="#fff" stroke="#555" stroke-width="0.8"/>
<rect x="467.5" y="552" width="3" height="8" fill="#fff" stroke="#555" stroke-width="0.8"/>
<rect x="1263.0" y="376" width="3" height="8" fill="#fff" stroke="#555" stroke-width="0.8"/>
<rect x="1296.5" y="376" width="3" height="8" fill="#fff" stroke="#555" stroke-width="0.8"/>
<rect x="1263.0" y="487" width="3" height="8" fill="#fff" stroke="#555" stroke-width="0.8"/>
<rect x="1296.5" y="487" width="3" height="8" fill="#fff" stroke="#555" stroke-width="0.8"/>
<line x1="866" y1="400" x2="866" y2="515" stroke="#c4c4c4" stroke-width="1.2" stroke-dasharray="40 8" stroke-linecap="butt"/>
<line x1="1072" y1="392" x2="1072" y2="475" stroke="#c4c4c4" stroke-width="1.2" stroke-dasharray="40 8" stroke-linecap="butt"/>
<line x1="454" y1="405" x2="454" y2="525" stroke="#c4c4c4" stroke-width="1.2" stroke-dasharray="60 8" stroke-linecap="butt"/>
<line x1="438" y1="401" x2="411" y2="471" stroke="#0a0a0a" stroke-width="4.8" stroke-linecap="butt"/>
<line x1="411" y1="479" x2="438" y2="549" stroke="#0a0a0a" stroke-width="4.8" stroke-linecap="butt"/>
<line x1="952" y1="390" x2="1020" y2="364" stroke="#0a0a0a" stroke-width="4.8" stroke-linecap="butt"/>
<line x1="1097" y1="352.5" x2="1156" y2="329" stroke="#0a0a0a" stroke-width="4.8" stroke-linecap="butt"/>
<line x1="1081" y1="617" x2="1106" y2="686" stroke="#0a0a0a" stroke-width="4.8" stroke-linecap="butt"/>
<line x1="1291" y1="485" x2="1330" y2="391" stroke="#0a0a0a" stroke-width="4.8" stroke-linecap="butt"/>
<line x1="957" y1="357.8" x2="1020" y2="357.8" stroke="#c8c8c8" stroke-width="1.2" stroke-dasharray="22 10" stroke-linecap="butt"/>
<line x1="967.5" y1="594.8" x2="1052.7" y2="594.8" stroke="#c9c9c9" stroke-width="3.0" stroke-linecap="butt"/>
<line x1="993.5" y1="588.8" x2="993.5" y2="600.8" stroke="#c9c9c9" stroke-width="2.6" stroke-linecap="butt"/>
<line x1="1026.8" y1="588.8" x2="1026.8" y2="600.8" stroke="#c9c9c9" stroke-width="2.6" stroke-linecap="butt"/>
<line x1="985" y1="621.4" x2="1062" y2="621.4" stroke="#c9c9c9" stroke-width="3.0" stroke-linecap="butt"/>
<line x1="1027" y1="615.4" x2="1027" y2="627.4" stroke="#c9c9c9" stroke-width="2.6" stroke-linecap="butt"/>
<line x1="1038.5" y1="615.4" x2="1038.5" y2="627.4" stroke="#c9c9c9" stroke-width="2.6" stroke-linecap="butt"/>
<line x1="978.6" y1="647.3" x2="1062" y2="647.3" stroke="#c9c9c9" stroke-width="3.0" stroke-linecap="butt"/>
<line x1="993" y1="641.3" x2="993" y2="653.3" stroke="#c9c9c9" stroke-width="2.6" stroke-linecap="butt"/>
<line x1="1027" y1="641.3" x2="1027" y2="653.3" stroke="#c9c9c9" stroke-width="2.6" stroke-linecap="butt"/>
<line x1="1038.5" y1="641.3" x2="1038.5" y2="653.3" stroke="#c9c9c9" stroke-width="2.6" stroke-linecap="butt"/>
<line x1="944" y1="673.8" x2="1062" y2="673.8" stroke="#c9c9c9" stroke-width="3.0" stroke-linecap="butt"/>
<line x1="993" y1="667.8" x2="993" y2="679.8" stroke="#c9c9c9" stroke-width="2.6" stroke-linecap="butt"/>
<line x1="1027" y1="667.8" x2="1027" y2="679.8" stroke="#c9c9c9" stroke-width="2.6" stroke-linecap="butt"/>
<line x1="1038.5" y1="667.8" x2="1038.5" y2="679.8" stroke="#c9c9c9" stroke-width="2.6" stroke-linecap="butt"/>
<line x1="932" y1="701.7" x2="1062" y2="701.7" stroke="#c9c9c9" stroke-width="3.0" stroke-linecap="butt"/>
<line x1="948" y1="695.7" x2="948" y2="707.7" stroke="#c9c9c9" stroke-width="2.6" stroke-linecap="butt"/>
<line x1="1027" y1="695.7" x2="1027" y2="707.7" stroke="#c9c9c9" stroke-width="2.6" stroke-linecap="butt"/>
<line x1="1038.5" y1="695.7" x2="1038.5" y2="707.7" stroke="#c9c9c9" stroke-width="2.6" stroke-linecap="butt"/>
<line x1="880" y1="725.6" x2="1062" y2="725.6" stroke="#c9c9c9" stroke-width="3.0" stroke-linecap="butt"/>
<line x1="897" y1="719.6" x2="897" y2="731.6" stroke="#c9c9c9" stroke-width="2.6" stroke-linecap="butt"/>
<line x1="948" y1="719.6" x2="948" y2="731.6" stroke="#c9c9c9" stroke-width="2.6" stroke-linecap="butt"/>
<line x1="993" y1="719.6" x2="993" y2="731.6" stroke="#c9c9c9" stroke-width="2.6" stroke-linecap="butt"/>
<line x1="1027" y1="719.6" x2="1027" y2="731.6" stroke="#c9c9c9" stroke-width="2.6" stroke-linecap="butt"/>
<line x1="1038.5" y1="719.6" x2="1038.5" y2="731.6" stroke="#c9c9c9" stroke-width="2.6" stroke-linecap="butt"/>
<line x1="972.5" y1="604" x2="972.5" y2="738" stroke="#c9c9c9" stroke-width="3.0" stroke-linecap="butt"/>
<line x1="931" y1="690" x2="931" y2="738" stroke="#c9c9c9" stroke-width="3.0" stroke-linecap="butt"/>
<line x1="1005.8" y1="588" x2="1005.8" y2="628" stroke="#c9c9c9" stroke-width="3.0" stroke-linecap="butt"/>
<line x1="985" y1="620" x2="1025" y2="588" stroke="#c9c9c9" stroke-width="2.6" stroke-linecap="butt"/>
<line x1="984" y1="588" x2="1030" y2="621" stroke="#c9c9c9" stroke-width="2.6" stroke-linecap="butt"/>
<line x1="960" y1="598" x2="985" y2="620" stroke="#c9c9c9" stroke-width="2.6" stroke-linecap="butt"/>
<line x1="972.4" y1="736.7" x2="940" y2="830" stroke="#c9c9c9" stroke-width="2.6" stroke-linecap="butt"/>
<line x1="972.4" y1="736.7" x2="1000" y2="830" stroke="#c9c9c9" stroke-width="2.6" stroke-linecap="butt"/>
<line x1="972.4" y1="736.7" x2="931" y2="744" stroke="#c9c9c9" stroke-width="2.6" stroke-linecap="butt"/>
<line x1="931" y1="744" x2="905" y2="762" stroke="#c9c9c9" stroke-width="2.6" stroke-linecap="butt"/>
<line x1="972.4" y1="736.7" x2="1006" y2="748" stroke="#c9c9c9" stroke-width="2.6" stroke-linecap="butt"/>
<line x1="1006" y1="748" x2="1054" y2="786" stroke="#c9c9c9" stroke-width="2.6" stroke-linecap="butt"/>
<line x1="880" y1="792" x2="928" y2="756" stroke="#c9c9c9" stroke-width="2.6" stroke-linecap="butt"/>
<line x1="883" y1="722" x2="906" y2="709" stroke="#c9c9c9" stroke-width="2.6" stroke-linecap="butt"/>
<path d="M 942.6 757.4 Q 972 792 1004.8 744.4" fill="none" stroke="#c9c9c9" stroke-width="2.6"/>
<line x1="893" y1="768" x2="903" y2="782" stroke="#c9c9c9" stroke-width="2.4" stroke-linecap="butt"/>
<line x1="905" y1="759" x2="915" y2="773" stroke="#c9c9c9" stroke-width="2.4" stroke-linecap="butt"/>
<line x1="1020" y1="765" x2="1030" y2="752" stroke="#c9c9c9" stroke-width="2.4" stroke-linecap="butt"/>
<line x1="1038" y1="778" x2="1048" y2="765" stroke="#c9c9c9" stroke-width="2.4" stroke-linecap="butt"/>
<line x1="958" y1="760" x2="958" y2="778" stroke="#c9c9c9" stroke-width="2.4" stroke-linecap="butt"/>
<line x1="985" y1="762" x2="985" y2="780" stroke="#c9c9c9" stroke-width="2.4" stroke-linecap="butt"/>
<line x1="940" y1="742" x2="950" y2="730" stroke="#c9c9c9" stroke-width="2.4" stroke-linecap="butt"/>
<line x1="877" y1="571.5" x2="965" y2="571.5" stroke="#222" stroke-width="1.3" stroke-linecap="butt"/>
<line x1="877" y1="597.7" x2="965" y2="597.7" stroke="#222" stroke-width="1.3" stroke-linecap="butt"/>
<line x1="877" y1="624.2" x2="965" y2="624.2" stroke="#222" stroke-width="1.3" stroke-linecap="butt"/>
<line x1="877" y1="649.4" x2="962" y2="649.4" stroke="#222" stroke-width="1.3" stroke-linecap="butt"/>
<line x1="877" y1="676" x2="948" y2="676" stroke="#222" stroke-width="1.3" stroke-linecap="butt"/>
<line x1="877" y1="702" x2="905" y2="702" stroke="#222" stroke-width="1.3" stroke-linecap="butt"/>
<line x1="965" y1="571.5" x2="965" y2="624" stroke="#222" stroke-width="1.2" stroke-linecap="butt"/>
<line x1="880" y1="714" x2="966" y2="649" stroke="#555" stroke-width="0.8" stroke-linecap="butt"/>
<text transform="translate(883,584) rotate(90)" x="0" y="2.88" font-size="8" fill="#aaa" font-weight="normal" text-anchor="middle">1</text>
<text transform="translate(883,610) rotate(90)" x="0" y="2.88" font-size="8" fill="#aaa" font-weight="normal" text-anchor="middle">2</text>
<text transform="translate(883,636) rotate(90)" x="0" y="2.88" font-size="8" fill="#aaa" font-weight="normal" text-anchor="middle">3</text>
<text transform="translate(883,662) rotate(90)" x="0" y="2.88" font-size="8" fill="#aaa" font-weight="normal" text-anchor="middle">4</text>
<text transform="translate(883,689) rotate(90)" x="0" y="2.88" font-size="8" fill="#aaa" font-weight="normal" text-anchor="middle">5</text>
<text transform="translate(883,716) rotate(90)" x="0" y="2.88" font-size="8" fill="#aaa" font-weight="normal" text-anchor="middle">6</text>
<line x1="462" y1="157" x2="1270" y2="157" stroke="#3a3a3a" stroke-width="0.9" stroke-linecap="butt"/>
<line x1="466" y1="150" x2="466" y2="164" stroke="#777" stroke-width="0.9"/>
<line x1="461.8" y1="161.2" x2="470.2" y2="152.8" stroke="#1c1c1c" stroke-width="1.5"/>
<line x1="582" y1="150" x2="582" y2="164" stroke="#777" stroke-width="0.9"/>
<line x1="577.8" y1="161.2" x2="586.2" y2="152.8" stroke="#1c1c1c" stroke-width="1.5"/>
<line x1="737" y1="150" x2="737" y2="164" stroke="#777" stroke-width="0.9"/>
<line x1="732.8" y1="161.2" x2="741.2" y2="152.8" stroke="#1c1c1c" stroke-width="1.5"/>
<line x1="856" y1="150" x2="856" y2="164" stroke="#777" stroke-width="0.9"/>
<line x1="851.8" y1="161.2" x2="860.2" y2="152.8" stroke="#1c1c1c" stroke-width="1.5"/>
<line x1="876" y1="150" x2="876" y2="164" stroke="#777" stroke-width="0.9"/>
<line x1="871.8" y1="161.2" x2="880.2" y2="152.8" stroke="#1c1c1c" stroke-width="1.5"/>
<line x1="940" y1="150" x2="940" y2="164" stroke="#777" stroke-width="0.9"/>
<line x1="935.8" y1="161.2" x2="944.2" y2="152.8" stroke="#1c1c1c" stroke-width="1.5"/>
<line x1="1002" y1="150" x2="1002" y2="164" stroke="#777" stroke-width="0.9"/>
<line x1="997.8" y1="161.2" x2="1006.2" y2="152.8" stroke="#1c1c1c" stroke-width="1.5"/>
<line x1="1061" y1="150" x2="1061" y2="164" stroke="#777" stroke-width="0.9"/>
<line x1="1056.8" y1="161.2" x2="1065.2" y2="152.8" stroke="#1c1c1c" stroke-width="1.5"/>
<line x1="1081" y1="150" x2="1081" y2="164" stroke="#777" stroke-width="0.9"/>
<line x1="1076.8" y1="161.2" x2="1085.2" y2="152.8" stroke="#1c1c1c" stroke-width="1.5"/>
<line x1="1266" y1="150" x2="1266" y2="164" stroke="#777" stroke-width="0.9"/>
<line x1="1261.8" y1="161.2" x2="1270.2" y2="152.8" stroke="#1c1c1c" stroke-width="1.5"/>
<line x1="432" y1="793.5" x2="1272" y2="793.5" stroke="#3a3a3a" stroke-width="0.9" stroke-linecap="butt"/>
<line x1="436" y1="786.5" x2="436" y2="800.5" stroke="#777" stroke-width="0.9"/>
<line x1="431.8" y1="797.7" x2="440.2" y2="789.3" stroke="#1c1c1c" stroke-width="1.5"/>
<line x1="466" y1="786.5" x2="466" y2="800.5" stroke="#777" stroke-width="0.9"/>
<line x1="461.8" y1="797.7" x2="470.2" y2="789.3" stroke="#1c1c1c" stroke-width="1.5"/>
<line x1="582.5" y1="786.5" x2="582.5" y2="800.5" stroke="#777" stroke-width="0.9"/>
<line x1="578.3" y1="797.7" x2="586.7" y2="789.3" stroke="#1c1c1c" stroke-width="1.5"/>
<line x1="737" y1="786.5" x2="737" y2="800.5" stroke="#777" stroke-width="0.9"/>
<line x1="732.8" y1="797.7" x2="741.2" y2="789.3" stroke="#1c1c1c" stroke-width="1.5"/>
<line x1="856" y1="786.5" x2="856" y2="800.5" stroke="#777" stroke-width="0.9"/>
<line x1="851.8" y1="797.7" x2="860.2" y2="789.3" stroke="#1c1c1c" stroke-width="1.5"/>
<line x1="876" y1="786.5" x2="876" y2="800.5" stroke="#777" stroke-width="0.9"/>
<line x1="871.8" y1="797.7" x2="880.2" y2="789.3" stroke="#1c1c1c" stroke-width="1.5"/>
<line x1="1060" y1="786.5" x2="1060" y2="800.5" stroke="#777" stroke-width="0.9"/>
<line x1="1055.8" y1="797.7" x2="1064.2" y2="789.3" stroke="#1c1c1c" stroke-width="1.5"/>
<line x1="1082" y1="786.5" x2="1082" y2="800.5" stroke="#777" stroke-width="0.9"/>
<line x1="1077.8" y1="797.7" x2="1086.2" y2="789.3" stroke="#1c1c1c" stroke-width="1.5"/>
<line x1="1133" y1="786.5" x2="1133" y2="800.5" stroke="#777" stroke-width="0.9"/>
<line x1="1128.8" y1="797.7" x2="1137.2" y2="789.3" stroke="#1c1c1c" stroke-width="1.5"/>
<line x1="1216.5" y1="786.5" x2="1216.5" y2="800.5" stroke="#777" stroke-width="0.9"/>
<line x1="1212.3" y1="797.7" x2="1220.7" y2="789.3" stroke="#1c1c1c" stroke-width="1.5"/>
<line x1="1268" y1="786.5" x2="1268" y2="800.5" stroke="#777" stroke-width="0.9"/>
<line x1="1263.8" y1="797.7" x2="1272.2" y2="789.3" stroke="#1c1c1c" stroke-width="1.5"/>
<line x1="496" y1="88" x2="496" y2="858" stroke="#3a3a3a" stroke-width="0.9" stroke-linecap="butt"/>
<line x1="489" y1="97" x2="503" y2="97" stroke="#777" stroke-width="0.9"/>
<line x1="491.8" y1="92.8" x2="500.2" y2="101.2" stroke="#1c1c1c" stroke-width="1.5"/>
<line x1="489" y1="126.5" x2="503" y2="126.5" stroke="#777" stroke-width="0.9"/>
<line x1="491.8" y1="122.3" x2="500.2" y2="130.7" stroke="#1c1c1c" stroke-width="1.5"/>
<line x1="489" y1="400" x2="503" y2="400" stroke="#777" stroke-width="0.9"/>
<line x1="491.8" y1="395.8" x2="500.2" y2="404.2" stroke="#1c1c1c" stroke-width="1.5"/>
<line x1="489" y1="549.5" x2="503" y2="549.5" stroke="#777" stroke-width="0.9"/>
<line x1="491.8" y1="545.3" x2="500.2" y2="553.7" stroke="#1c1c1c" stroke-width="1.5"/>
<line x1="489" y1="824.5" x2="503" y2="824.5" stroke="#777" stroke-width="0.9"/>
<line x1="491.8" y1="820.3" x2="500.2" y2="828.7" stroke="#1c1c1c" stroke-width="1.5"/>
<line x1="489" y1="854" x2="503" y2="854" stroke="#777" stroke-width="0.9"/>
<line x1="491.8" y1="849.8" x2="500.2" y2="858.2" stroke="#1c1c1c" stroke-width="1.5"/>
<line x1="527" y1="122.5" x2="527" y2="828.5" stroke="#3a3a3a" stroke-width="0.9" stroke-linecap="butt"/>
<line x1="520" y1="126.5" x2="534" y2="126.5" stroke="#777" stroke-width="0.9"/>
<line x1="522.8" y1="122.3" x2="531.2" y2="130.7" stroke="#1c1c1c" stroke-width="1.5"/>
<line x1="520" y1="824.5" x2="534" y2="824.5" stroke="#777" stroke-width="0.9"/>
<line x1="522.8" y1="820.3" x2="531.2" y2="828.7" stroke="#1c1c1c" stroke-width="1.5"/>
<line x1="823" y1="122.5" x2="823" y2="828.5" stroke="#3a3a3a" stroke-width="0.9" stroke-linecap="butt"/>
<line x1="816" y1="126.5" x2="830" y2="126.5" stroke="#777" stroke-width="0.9"/>
<line x1="818.8" y1="122.3" x2="827.2" y2="130.7" stroke="#1c1c1c" stroke-width="1.5"/>
<line x1="816" y1="388" x2="830" y2="388" stroke="#777" stroke-width="0.9"/>
<line x1="818.8" y1="383.8" x2="827.2" y2="392.2" stroke="#1c1c1c" stroke-width="1.5"/>
<line x1="816" y1="516" x2="830" y2="516" stroke="#777" stroke-width="0.9"/>
<line x1="818.8" y1="511.8" x2="827.2" y2="520.2" stroke="#1c1c1c" stroke-width="1.5"/>
<line x1="816" y1="824.5" x2="830" y2="824.5" stroke="#777" stroke-width="0.9"/>
<line x1="818.8" y1="820.3" x2="827.2" y2="828.7" stroke="#1c1c1c" stroke-width="1.5"/>
<line x1="462" y1="603.5" x2="860" y2="603.5" stroke="#3a3a3a" stroke-width="0.9" stroke-linecap="butt"/>
<line x1="466" y1="596.5" x2="466" y2="610.5" stroke="#777" stroke-width="0.9"/>
<line x1="461.8" y1="607.7" x2="470.2" y2="599.3" stroke="#1c1c1c" stroke-width="1.5"/>
<line x1="856" y1="596.5" x2="856" y2="610.5" stroke="#777" stroke-width="0.9"/>
<line x1="851.8" y1="607.7" x2="860.2" y2="599.3" stroke="#1c1c1c" stroke-width="1.5"/>
<line x1="872" y1="318" x2="1270" y2="318" stroke="#3a3a3a" stroke-width="0.9" stroke-linecap="butt"/>
<line x1="876" y1="311" x2="876" y2="325" stroke="#777" stroke-width="0.9"/>
<line x1="871.8" y1="322.2" x2="880.2" y2="313.8" stroke="#1c1c1c" stroke-width="1.5"/>
<line x1="949" y1="311" x2="949" y2="325" stroke="#777" stroke-width="0.9"/>
<line x1="944.8" y1="322.2" x2="953.2" y2="313.8" stroke="#1c1c1c" stroke-width="1.5"/>
<line x1="1020" y1="311" x2="1020" y2="325" stroke="#777" stroke-width="0.9"/>
<line x1="1015.8" y1="322.2" x2="1024.2" y2="313.8" stroke="#1c1c1c" stroke-width="1.5"/>
<line x1="1062" y1="311" x2="1062" y2="325" stroke="#777" stroke-width="0.9"/>
<line x1="1057.8" y1="322.2" x2="1066.2" y2="313.8" stroke="#1c1c1c" stroke-width="1.5"/>
<line x1="1081" y1="311" x2="1081" y2="325" stroke="#777" stroke-width="0.9"/>
<line x1="1076.8" y1="322.2" x2="1085.2" y2="313.8" stroke="#1c1c1c" stroke-width="1.5"/>
<line x1="1097.5" y1="311" x2="1097.5" y2="325" stroke="#777" stroke-width="0.9"/>
<line x1="1093.3" y1="322.2" x2="1101.7" y2="313.8" stroke="#1c1c1c" stroke-width="1.5"/>
<line x1="1160" y1="311" x2="1160" y2="325" stroke="#777" stroke-width="0.9"/>
<line x1="1155.8" y1="322.2" x2="1164.2" y2="313.8" stroke="#1c1c1c" stroke-width="1.5"/>
<line x1="1266" y1="311" x2="1266" y2="325" stroke="#777" stroke-width="0.9"/>
<line x1="1261.8" y1="322.2" x2="1270.2" y2="313.8" stroke="#1c1c1c" stroke-width="1.5"/>
<line x1="1114" y1="122.5" x2="1114" y2="352" stroke="#3a3a3a" stroke-width="0.9" stroke-linecap="butt"/>
<line x1="1107" y1="126.5" x2="1121" y2="126.5" stroke="#777" stroke-width="0.9"/>
<line x1="1109.8" y1="122.3" x2="1118.2" y2="130.7" stroke="#1c1c1c" stroke-width="1.5"/>
<line x1="1107" y1="348" x2="1121" y2="348" stroke="#777" stroke-width="0.9"/>
<line x1="1109.8" y1="343.8" x2="1118.2" y2="352.2" stroke="#1c1c1c" stroke-width="1.5"/>
<line x1="1236.5" y1="122.5" x2="1236.5" y2="352" stroke="#3a3a3a" stroke-width="0.9" stroke-linecap="butt"/>
<line x1="1229.5" y1="126.5" x2="1243.5" y2="126.5" stroke="#777" stroke-width="0.9"/>
<line x1="1232.3" y1="122.3" x2="1240.7" y2="130.7" stroke="#1c1c1c" stroke-width="1.5"/>
<line x1="1229.5" y1="206.5" x2="1243.5" y2="206.5" stroke="#777" stroke-width="0.9"/>
<line x1="1232.3" y1="202.3" x2="1240.7" y2="210.7" stroke="#1c1c1c" stroke-width="1.5"/>
<line x1="1229.5" y1="268" x2="1243.5" y2="268" stroke="#777" stroke-width="0.9"/>
<line x1="1232.3" y1="263.8" x2="1240.7" y2="272.2" stroke="#1c1c1c" stroke-width="1.5"/>
<line x1="1229.5" y1="348" x2="1243.5" y2="348" stroke="#777" stroke-width="0.9"/>
<line x1="1232.3" y1="343.8" x2="1240.7" y2="352.2" stroke="#1c1c1c" stroke-width="1.5"/>
<line x1="1114.5" y1="361.5" x2="1114.5" y2="568" stroke="#3a3a3a" stroke-width="0.9" stroke-linecap="butt"/>
<line x1="1107.5" y1="365.5" x2="1121.5" y2="365.5" stroke="#777" stroke-width="0.9"/>
<line x1="1110.3" y1="361.3" x2="1118.7" y2="369.7" stroke="#1c1c1c" stroke-width="1.5"/>
<line x1="1107.5" y1="388" x2="1121.5" y2="388" stroke="#777" stroke-width="0.9"/>
<line x1="1110.3" y1="383.8" x2="1118.7" y2="392.2" stroke="#1c1c1c" stroke-width="1.5"/>
<line x1="1107.5" y1="476" x2="1121.5" y2="476" stroke="#777" stroke-width="0.9"/>
<line x1="1110.3" y1="471.8" x2="1118.7" y2="480.2" stroke="#1c1c1c" stroke-width="1.5"/>
<line x1="1107.5" y1="564" x2="1121.5" y2="564" stroke="#777" stroke-width="0.9"/>
<line x1="1110.3" y1="559.8" x2="1118.7" y2="568.2" stroke="#1c1c1c" stroke-width="1.5"/>
<line x1="1141.5" y1="361.5" x2="1141.5" y2="568" stroke="#3a3a3a" stroke-width="0.9" stroke-linecap="butt"/>
<line x1="1134.5" y1="365.5" x2="1148.5" y2="365.5" stroke="#777" stroke-width="0.9"/>
<line x1="1137.3" y1="361.3" x2="1145.7" y2="369.7" stroke="#1c1c1c" stroke-width="1.5"/>
<line x1="1134.5" y1="564" x2="1148.5" y2="564" stroke="#777" stroke-width="0.9"/>
<line x1="1137.3" y1="559.8" x2="1145.7" y2="568.2" stroke="#1c1c1c" stroke-width="1.5"/>
<line x1="1235.5" y1="361.5" x2="1235.5" y2="568" stroke="#3a3a3a" stroke-width="0.9" stroke-linecap="butt"/>
<line x1="1228.5" y1="365.5" x2="1242.5" y2="365.5" stroke="#777" stroke-width="0.9"/>
<line x1="1231.3" y1="361.3" x2="1239.7" y2="369.7" stroke="#1c1c1c" stroke-width="1.5"/>
<line x1="1228.5" y1="384.5" x2="1242.5" y2="384.5" stroke="#777" stroke-width="0.9"/>
<line x1="1231.3" y1="380.3" x2="1239.7" y2="388.7" stroke="#1c1c1c" stroke-width="1.5"/>
<line x1="1228.5" y1="484" x2="1242.5" y2="484" stroke="#777" stroke-width="0.9"/>
<line x1="1231.3" y1="479.8" x2="1239.7" y2="488.2" stroke="#1c1c1c" stroke-width="1.5"/>
<line x1="1228.5" y1="564" x2="1242.5" y2="564" stroke="#777" stroke-width="0.9"/>
<line x1="1231.3" y1="559.8" x2="1239.7" y2="568.2" stroke="#1c1c1c" stroke-width="1.5"/>
<line x1="1114.5" y1="575.5" x2="1114.5" y2="828" stroke="#3a3a3a" stroke-width="0.9" stroke-linecap="butt"/>
<line x1="1107.5" y1="579.5" x2="1121.5" y2="579.5" stroke="#777" stroke-width="0.9"/>
<line x1="1110.3" y1="575.3" x2="1118.7" y2="583.7" stroke="#1c1c1c" stroke-width="1.5"/>
<line x1="1107.5" y1="617" x2="1121.5" y2="617" stroke="#777" stroke-width="0.9"/>
<line x1="1110.3" y1="612.8" x2="1118.7" y2="621.2" stroke="#1c1c1c" stroke-width="1.5"/>
<line x1="1107.5" y1="688" x2="1121.5" y2="688" stroke="#777" stroke-width="0.9"/>
<line x1="1110.3" y1="683.8" x2="1118.7" y2="692.2" stroke="#1c1c1c" stroke-width="1.5"/>
<line x1="1107.5" y1="824" x2="1121.5" y2="824" stroke="#777" stroke-width="0.9"/>
<line x1="1110.3" y1="819.8" x2="1118.7" y2="828.2" stroke="#1c1c1c" stroke-width="1.5"/>
<line x1="1235.5" y1="575.5" x2="1235.5" y2="828" stroke="#3a3a3a" stroke-width="0.9" stroke-linecap="butt"/>
<line x1="1228.5" y1="579.5" x2="1242.5" y2="579.5" stroke="#777" stroke-width="0.9"/>
<line x1="1231.3" y1="575.3" x2="1239.7" y2="583.7" stroke="#1c1c1c" stroke-width="1.5"/>
<line x1="1228.5" y1="824" x2="1242.5" y2="824" stroke="#777" stroke-width="0.9"/>
<line x1="1231.3" y1="819.8" x2="1239.7" y2="828.2" stroke="#1c1c1c" stroke-width="1.5"/>
<line x1="928" y1="567.5" x2="928" y2="828.5" stroke="#3a3a3a" stroke-width="0.9" stroke-linecap="butt"/>
<line x1="921" y1="571.5" x2="935" y2="571.5" stroke="#777" stroke-width="0.9"/>
<line x1="923.8" y1="567.3" x2="932.2" y2="575.7" stroke="#1c1c1c" stroke-width="1.5"/>
<line x1="921" y1="824.5" x2="935" y2="824.5" stroke="#777" stroke-width="0.9"/>
<line x1="923.8" y1="820.3" x2="932.2" y2="828.7" stroke="#1c1c1c" stroke-width="1.5"/>
<line x1="873" y1="792" x2="1064" y2="792" stroke="#3a3a3a" stroke-width="0.9" stroke-linecap="butt"/>
<line x1="877" y1="785" x2="877" y2="799" stroke="#777" stroke-width="0.9"/>
<line x1="872.8" y1="796.2" x2="881.2" y2="787.8" stroke="#1c1c1c" stroke-width="1.5"/>
<line x1="1060" y1="785" x2="1060" y2="799" stroke="#777" stroke-width="0.9"/>
<line x1="1055.8" y1="796.2" x2="1064.2" y2="787.8" stroke="#1c1c1c" stroke-width="1.5"/>
<polyline points="1140,59 1015,59 1071,157" fill="none" stroke="#3a3a3a" stroke-width="0.9"/>
<polyline points="747,195.6 844,195.6 865,158" fill="none" stroke="#3a3a3a" stroke-width="0.9"/>
<polyline points="768,734.3 831,734.3 864,792.5" fill="none" stroke="#3a3a3a" stroke-width="0.9"/>
<polyline points="1003,750.5 1094,750.5 1071.5,793" fill="none" stroke="#3a3a3a" stroke-width="0.9"/>
<polyline points="1085,448 1085,396.6 1111,380" fill="none" stroke="#3a3a3a" stroke-width="0.9"/>
<polyline points="1331,293 1331,413 1237,359" fill="none" stroke="#3a3a3a" stroke-width="0.9"/>
<text transform="translate(533,172) rotate(180)" x="0" y="9.00" font-size="25" fill="#1c1c1c" font-weight="bold" text-anchor="middle" stroke="#1c1c1c" stroke-width="0.7">1 136</text>
<text transform="translate(659,172) rotate(180)" x="0" y="9.00" font-size="25" fill="#1c1c1c" font-weight="bold" text-anchor="middle" stroke="#1c1c1c" stroke-width="0.7">1 500</text>
<text transform="translate(780.5,172) rotate(180)" x="0" y="9.00" font-size="25" fill="#1c1c1c" font-weight="bold" text-anchor="middle" stroke="#1c1c1c" stroke-width="0.7">1 136</text>
<text transform="translate(910.6,170) rotate(180)" x="0" y="9.00" font-size="25" fill="#1c1c1c" font-weight="bold" text-anchor="middle" stroke="#1c1c1c" stroke-width="0.7">611</text>
<text transform="translate(971,143) rotate(180)" x="0" y="9.00" font-size="25" fill="#1c1c1c" font-weight="bold" text-anchor="middle" stroke="#1c1c1c" stroke-width="0.7">600</text>
<text transform="translate(1032,170) rotate(180)" x="0" y="9.00" font-size="25" fill="#1c1c1c" font-weight="bold" text-anchor="middle" stroke="#1c1c1c" stroke-width="0.7">561</text>
<text transform="translate(1174.5,140) rotate(180)" x="0" y="9.00" font-size="25" fill="#1c1c1c" font-weight="bold" text-anchor="middle" stroke="#1c1c1c" stroke-width="0.7">1 773</text>
<text transform="translate(1114,72) rotate(180)" x="0" y="9.00" font-size="25" fill="#1c1c1c" font-weight="bold" text-anchor="middle" stroke="#1c1c1c" stroke-width="0.7">227</text>
<text transform="translate(772,208) rotate(180)" x="0" y="9.00" font-size="25" fill="#1c1c1c" font-weight="bold" text-anchor="middle" stroke="#1c1c1c" stroke-width="0.7">227</text>
<text transform="translate(661,616) rotate(180)" x="0" y="9.00" font-size="25" fill="#1c1c1c" font-weight="bold" text-anchor="middle" stroke="#1c1c1c" stroke-width="0.7">3 773</text>
<text transform="translate(795,747) rotate(180)" x="0" y="9.00" font-size="25" fill="#1c1c1c" font-weight="bold" text-anchor="middle" stroke="#1c1c1c" stroke-width="0.7">227</text>
<text transform="translate(411,805) rotate(180)" x="0" y="9.00" font-size="25" fill="#1c1c1c" font-weight="bold" text-anchor="middle" stroke="#1c1c1c" stroke-width="0.7">293</text>
<text transform="translate(533.7,805) rotate(180)" x="0" y="9.00" font-size="25" fill="#1c1c1c" font-weight="bold" text-anchor="middle" stroke="#1c1c1c" stroke-width="0.7">1 136</text>
<text transform="translate(659.7,805) rotate(180)" x="0" y="9.00" font-size="25" fill="#1c1c1c" font-weight="bold" text-anchor="middle" stroke="#1c1c1c" stroke-width="0.7">1 500</text>
<text transform="translate(785.6,805) rotate(180)" x="0" y="9.00" font-size="25" fill="#1c1c1c" font-weight="bold" text-anchor="middle" stroke="#1c1c1c" stroke-width="0.7">1 136</text>
<text transform="translate(969,805) rotate(180)" x="0" y="9.00" font-size="25" fill="#1c1c1c" font-weight="bold" text-anchor="middle" stroke="#1c1c1c" stroke-width="0.7">1 773</text>
<text transform="translate(1107.7,805) rotate(180)" x="0" y="9.00" font-size="25" fill="#1c1c1c" font-weight="bold" text-anchor="middle" stroke="#1c1c1c" stroke-width="0.7">486</text>
<text transform="translate(1175,805) rotate(180)" x="0" y="9.00" font-size="25" fill="#1c1c1c" font-weight="bold" text-anchor="middle" stroke="#1c1c1c" stroke-width="0.7">800</text>
<text transform="translate(1242,805) rotate(180)" x="0" y="9.00" font-size="25" fill="#1c1c1c" font-weight="bold" text-anchor="middle" stroke="#1c1c1c" stroke-width="0.7">486</text>
<text transform="translate(1028.8,762) rotate(180)" x="0" y="9.00" font-size="25" fill="#1c1c1c" font-weight="bold" text-anchor="middle" stroke="#1c1c1c" stroke-width="0.7">227</text>
<text transform="translate(484,71) rotate(-90)" x="0" y="9.00" font-size="25" fill="#1c1c1c" font-weight="bold" text-anchor="middle" stroke="#1c1c1c" stroke-width="0.7">293</text>
<text transform="translate(485,265) rotate(-90)" x="0" y="9.00" font-size="25" fill="#1c1c1c" font-weight="bold" text-anchor="middle" stroke="#1c1c1c" stroke-width="0.7">2 661</text>
<text transform="translate(485.3,473) rotate(-90)" x="0" y="9.00" font-size="25" fill="#1c1c1c" font-weight="bold" text-anchor="middle" stroke="#1c1c1c" stroke-width="0.7">1 450</text>
<text transform="translate(516.6,475) rotate(-90)" x="0" y="9.00" font-size="25" fill="#1c1c1c" font-weight="bold" text-anchor="middle" stroke="#1c1c1c" stroke-width="0.7">6 773</text>
<text transform="translate(485,688) rotate(-90)" x="0" y="9.00" font-size="25" fill="#1c1c1c" font-weight="bold" text-anchor="middle" stroke="#1c1c1c" stroke-width="0.7">2 661</text>
<text transform="translate(485,884) rotate(-90)" x="0" y="9.00" font-size="25" fill="#1c1c1c" font-weight="bold" text-anchor="middle" stroke="#1c1c1c" stroke-width="0.7">293</text>
<text transform="translate(812,290) rotate(-90)" x="0" y="9.00" font-size="25" fill="#1c1c1c" font-weight="bold" text-anchor="middle" stroke="#1c1c1c" stroke-width="0.7">2 541</text>
<text transform="translate(812.5,451.7) rotate(-90)" x="0" y="9.00" font-size="25" fill="#1c1c1c" font-weight="bold" text-anchor="middle" stroke="#1c1c1c" stroke-width="0.7">1 240</text>
<text transform="translate(812.4,671) rotate(-90)" x="0" y="9.00" font-size="25" fill="#1c1c1c" font-weight="bold" text-anchor="middle" stroke="#1c1c1c" stroke-width="0.7">2 991</text>
<text transform="translate(1103,237) rotate(-90)" x="0" y="9.00" font-size="25" fill="#1c1c1c" font-weight="bold" text-anchor="middle" stroke="#1c1c1c" stroke-width="0.7">2 156</text>
<text transform="translate(1224,165) rotate(-90)" x="0" y="9.00" font-size="25" fill="#1c1c1c" font-weight="bold" text-anchor="middle" stroke="#1c1c1c" stroke-width="0.7">776</text>
<text transform="translate(1247.5,237) rotate(-90)" x="0" y="9.00" font-size="25" fill="#1c1c1c" font-weight="bold" text-anchor="middle" stroke="#1c1c1c" stroke-width="0.7">600</text>
<text transform="translate(1249,305) rotate(-90)" x="0" y="9.00" font-size="25" fill="#1c1c1c" font-weight="bold" text-anchor="middle" stroke="#1c1c1c" stroke-width="0.7">779</text>
<text transform="translate(1074,425) rotate(-90)" x="0" y="9.00" font-size="25" fill="#1c1c1c" font-weight="bold" text-anchor="middle" stroke="#1c1c1c" stroke-width="0.7">224</text>
<text transform="translate(1103,432.5) rotate(-90)" x="0" y="9.00" font-size="25" fill="#1c1c1c" font-weight="bold" text-anchor="middle" stroke="#1c1c1c" stroke-width="0.7">840</text>
<text transform="translate(1103.5,520.5) rotate(-90)" x="0" y="9.00" font-size="25" fill="#1c1c1c" font-weight="bold" text-anchor="middle" stroke="#1c1c1c" stroke-width="0.7">843</text>
<text transform="translate(1130.6,465) rotate(-90)" x="0" y="9.00" font-size="25" fill="#1c1c1c" font-weight="bold" text-anchor="middle" stroke="#1c1c1c" stroke-width="0.7">1 907</text>
<text transform="translate(1224.5,382) rotate(-90)" x="0" y="9.00" font-size="25" fill="#1c1c1c" font-weight="bold" text-anchor="middle" stroke="#1c1c1c" stroke-width="0.7">178</text>
<text transform="translate(1247.4,435) rotate(-90)" x="0" y="9.00" font-size="25" fill="#1c1c1c" font-weight="bold" text-anchor="middle" stroke="#1c1c1c" stroke-width="0.7">960</text>
<text transform="translate(1247.4,528) rotate(-90)" x="0" y="9.00" font-size="25" fill="#1c1c1c" font-weight="bold" text-anchor="middle" stroke="#1c1c1c" stroke-width="0.7">768</text>
<text transform="translate(1103.7,600) rotate(-90)" x="0" y="9.00" font-size="25" fill="#1c1c1c" font-weight="bold" text-anchor="middle" stroke="#1c1c1c" stroke-width="0.7">343</text>
<text transform="translate(1126.5,655) rotate(-90)" x="0" y="9.00" font-size="25" fill="#1c1c1c" font-weight="bold" text-anchor="middle" stroke="#1c1c1c" stroke-width="0.7">700</text>
<text transform="translate(1103.7,757) rotate(-90)" x="0" y="9.00" font-size="25" fill="#1c1c1c" font-weight="bold" text-anchor="middle" stroke="#1c1c1c" stroke-width="0.7">1 312</text>
<text transform="translate(1223,606) rotate(-90)" x="0" y="9.00" font-size="25" fill="#1c1c1c" font-weight="bold" text-anchor="middle" stroke="#1c1c1c" stroke-width="0.7">177</text>
<text transform="translate(1223.3,702) rotate(-90)" x="0" y="9.00" font-size="25" fill="#1c1c1c" font-weight="bold" text-anchor="middle" stroke="#1c1c1c" stroke-width="0.7">2 356</text>
<text transform="translate(916,698) rotate(-90)" x="0" y="9.00" font-size="25" fill="#1c1c1c" font-weight="bold" text-anchor="middle" stroke="#1c1c1c" stroke-width="0.7">2 445</text>
<text transform="translate(1320.7,318) rotate(-90)" x="0" y="9.00" font-size="25" fill="#1c1c1c" font-weight="bold" text-anchor="middle" stroke="#1c1c1c" stroke-width="0.7">177</text>
<text transform="translate(913,306) rotate(0)" x="0" y="9.00" font-size="25" fill="#1c1c1c" font-weight="bold" text-anchor="middle" stroke="#1c1c1c" stroke-width="0.7">689</text>
<text transform="translate(985,306) rotate(0)" x="0" y="9.00" font-size="25" fill="#1c1c1c" font-weight="bold" text-anchor="middle" stroke="#1c1c1c" stroke-width="0.7">700</text>
<text transform="translate(1040.6,306) rotate(0)" x="0" y="9.00" font-size="25" fill="#1c1c1c" font-weight="bold" text-anchor="middle" stroke="#1c1c1c" stroke-width="0.7">384</text>
<text transform="translate(1129.4,305) rotate(0)" x="0" y="9.00" font-size="25" fill="#1c1c1c" font-weight="bold" text-anchor="middle" stroke="#1c1c1c" stroke-width="0.7">600</text>
<text transform="translate(1106,330) rotate(0)" x="0" y="9.00" font-size="25" fill="#1c1c1c" font-weight="bold" text-anchor="middle" stroke="#1c1c1c" stroke-width="0.7">144</text>
<text transform="translate(1197.5,330) rotate(0)" x="0" y="9.00" font-size="25" fill="#1c1c1c" font-weight="bold" text-anchor="middle" stroke="#1c1c1c" stroke-width="0.7">1 029</text>
<text transform="translate(660.6,90) rotate(180)" x="0" y="9.00" font-size="25" fill="#8a8a8a" font-weight="bold" text-anchor="middle" stroke="#8a8a8a" stroke-width="0.35">ОК-3</text>
<text transform="translate(972.4,72) rotate(180)" x="0" y="9.00" font-size="25" fill="#8a8a8a" font-weight="bold" text-anchor="middle" stroke="#8a8a8a" stroke-width="0.35">ОК-1</text>
<text transform="translate(661,871) rotate(180)" x="0" y="9.00" font-size="25" fill="#8a8a8a" font-weight="bold" text-anchor="middle" stroke="#8a8a8a" stroke-width="0.35">ОК-3</text>
<text transform="translate(1174.5,874) rotate(180)" x="0" y="9.00" font-size="25" fill="#8a8a8a" font-weight="bold" text-anchor="middle" stroke="#8a8a8a" stroke-width="0.35">ОК-2</text>
<text transform="translate(1308.3,239) rotate(-90)" x="0" y="9.00" font-size="25" fill="#8a8a8a" font-weight="bold" text-anchor="middle" stroke="#8a8a8a" stroke-width="0.35">ОК-1</text>
<text transform="translate(984.5,334) rotate(0)" x="0" y="9.00" font-size="25" fill="#8a8a8a" font-weight="bold" text-anchor="middle" stroke="#8a8a8a" stroke-width="0.35">ДВ-2</text>
<text transform="translate(1131.8,368) rotate(0)" x="0" y="9.00" font-size="25" fill="#8a8a8a" font-weight="bold" text-anchor="middle" stroke="#8a8a8a" stroke-width="0.35">ДВ-1</text>
<text transform="translate(463.3,476.5) rotate(-90)" x="0" y="9.00" font-size="25" fill="#8a8a8a" font-weight="bold" text-anchor="middle" stroke="#8a8a8a" stroke-width="0.35">ДВ-5</text>
<text transform="translate(1271.5,435) rotate(-90)" x="0" y="9.00" font-size="25" fill="#8a8a8a" font-weight="bold" text-anchor="middle" stroke="#8a8a8a" stroke-width="0.35">ДВ-4</text>
<text transform="translate(1058.7,652.7) rotate(-90)" x="0" y="9.00" font-size="25" fill="#8a8a8a" font-weight="bold" text-anchor="middle" stroke="#8a8a8a" stroke-width="0.35">ДВ-2</text>
<text transform="translate(260,494.65) rotate(-90)" x="0" y="10.80" font-size="30" fill="#e3201f" font-weight="bold" text-anchor="middle" stroke="#e3201f" stroke-width="0.5" textLength="118.4" lengthAdjust="spacingAndGlyphs">Терраса</text>
<text transform="translate(301.2,494.5) rotate(-90)" x="0" y="10.80" font-size="30" fill="#e3201f" font-weight="bold" text-anchor="middle" stroke="#e3201f" stroke-width="0.5" textLength="121.5" lengthAdjust="spacingAndGlyphs">20,16 м<tspan font-size="18.6" dy="-12.6">2</tspan></text>
<text transform="translate(632.4,473.84999999999997) rotate(-90)" x="0" y="10.80" font-size="30" fill="#e3201f" font-weight="bold" text-anchor="middle" stroke="#e3201f" stroke-width="0.5" textLength="229.4" lengthAdjust="spacingAndGlyphs">Гостиная Кухня</text>
<text transform="translate(671.7,475.0) rotate(-90)" x="0" y="10.80" font-size="30" fill="#e3201f" font-weight="bold" text-anchor="middle" stroke="#e3201f" stroke-width="0.5" textLength="122.9" lengthAdjust="spacingAndGlyphs">25,55 м<tspan font-size="18.6" dy="-12.6">2</tspan></text>
<text transform="translate(960.9,230.54999999999998) rotate(-90)" x="0" y="10.80" font-size="30" fill="#e3201f" font-weight="bold" text-anchor="middle" stroke="#e3201f" stroke-width="0.5" textLength="119.2" lengthAdjust="spacingAndGlyphs">Санузел</text>
<text transform="translate(1002,230.0) rotate(-90)" x="0" y="10.80" font-size="30" fill="#e3201f" font-weight="bold" text-anchor="middle" stroke="#e3201f" stroke-width="0.5" textLength="104.5" lengthAdjust="spacingAndGlyphs">3,82 м<tspan font-size="18.6" dy="-12.6">2</tspan></text>
<text transform="translate(1166.7,230.45) rotate(-90)" x="0" y="10.80" font-size="30" fill="#e3201f" font-weight="bold" text-anchor="middle" stroke="#e3201f" stroke-width="0.5" textLength="155.0" lengthAdjust="spacingAndGlyphs">Котельная</text>
<text transform="translate(1208,230.0) rotate(-90)" x="0" y="10.80" font-size="30" fill="#e3201f" font-weight="bold" text-anchor="middle" stroke="#e3201f" stroke-width="0.5" textLength="104.1" lengthAdjust="spacingAndGlyphs">3,82 м<tspan font-size="18.6" dy="-12.6">2</tspan></text>
<text transform="translate(954.8,467.09999999999997) rotate(-90)" x="0" y="10.80" font-size="30" fill="#e3201f" font-weight="bold" text-anchor="middle" stroke="#e3201f" stroke-width="0.5" textLength="130.9" lengthAdjust="spacingAndGlyphs">Коридор</text>
<text transform="translate(996.4,467.1) rotate(-90)" x="0" y="10.80" font-size="30" fill="#e3201f" font-weight="bold" text-anchor="middle" stroke="#e3201f" stroke-width="0.5" textLength="105.1" lengthAdjust="spacingAndGlyphs">3,94 м<tspan font-size="18.6" dy="-12.6">2</tspan></text>
<text transform="translate(1165.4,480.45000000000005) rotate(-90)" x="0" y="10.80" font-size="30" fill="#e3201f" font-weight="bold" text-anchor="middle" stroke="#e3201f" stroke-width="0.5" textLength="155.0" lengthAdjust="spacingAndGlyphs">Прихожая</text>
<text transform="translate(1205.8,481.25) rotate(-90)" x="0" y="10.80" font-size="30" fill="#e3201f" font-weight="bold" text-anchor="middle" stroke="#e3201f" stroke-width="0.5" textLength="105.0" lengthAdjust="spacingAndGlyphs">3,38 м<tspan font-size="18.6" dy="-12.6">2</tspan></text>
<text transform="translate(960,674.2) rotate(-90)" x="0" y="10.80" font-size="30" fill="#e3201f" font-weight="bold" text-anchor="middle" stroke="#e3201f" stroke-width="0.5" textLength="140.9" lengthAdjust="spacingAndGlyphs">Лестница</text>
<text transform="translate(1001.4,673.8) rotate(-90)" x="0" y="10.80" font-size="30" fill="#e3201f" font-weight="bold" text-anchor="middle" stroke="#e3201f" stroke-width="0.5" textLength="105.5" lengthAdjust="spacingAndGlyphs">3,93 м<tspan font-size="18.6" dy="-12.6">2</tspan></text>
<text transform="translate(1148.5,701.1500000000001) rotate(-90)" x="0" y="10.80" font-size="30" fill="#e3201f" font-weight="bold" text-anchor="middle" stroke="#e3201f" stroke-width="0.5" textLength="125.4" lengthAdjust="spacingAndGlyphs">Комната</text>
<text transform="translate(1188.4,701.5) rotate(-90)" x="0" y="10.80" font-size="30" fill="#e3201f" font-weight="bold" text-anchor="middle" stroke="#e3201f" stroke-width="0.5" textLength="103.9" lengthAdjust="spacingAndGlyphs">4,18 м<tspan font-size="18.6" dy="-12.6">2</tspan></text>
<text transform="translate(1365.2,524.15) rotate(-90)" x="0" y="10.80" font-size="30" fill="#e3201f" font-weight="bold" text-anchor="middle" stroke="#e3201f" stroke-width="0.5" textLength="137.8" lengthAdjust="spacingAndGlyphs">Крыльцо</text>
<text transform="translate(1404.9,525.35) rotate(-90)" x="0" y="10.80" font-size="30" fill="#e3201f" font-weight="bold" text-anchor="middle" stroke="#e3201f" stroke-width="0.5" textLength="105.6" lengthAdjust="spacingAndGlyphs">3,40 м<tspan font-size="18.6" dy="-12.6">2</tspan></text>
</svg></body></html>
